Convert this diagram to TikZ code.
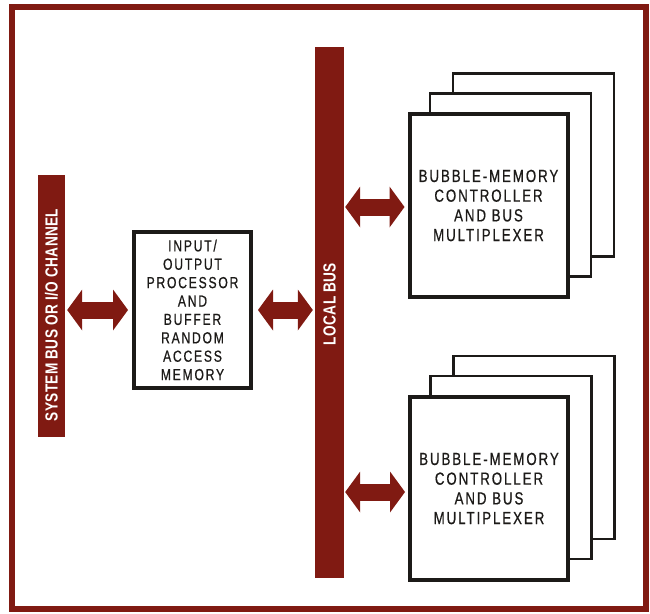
\documentclass[tikz,border=0pt]{standalone}
\usepackage{fontspec}
\setmainfont{Liberation Sans}
\newfontfamily\boxfont[FakeStretch=0.76,LetterSpace=11,FakeBold=0.6]{Liberation Sans}
\newfontfamily\busfont[FakeStretch=0.78,LetterSpace=2]{Liberation Sans Bold}
\usetikzlibrary{arrows.meta,calc}
\definecolor{busred}{RGB}{128,26,18}
\definecolor{inkblack}{RGB}{28,26,24}
\begin{document}
\begin{tikzpicture}[x=1pt,y=-1pt,
  bar/.style={fill=busred, draw=none, inner sep=0pt},
  buslabel/.style={rotate=90, text=white, inner sep=0pt, font=\busfont\fontsize{17.5}{19}\selectfont},
  iopbox/.style={draw=inkblack, line width=4pt, fill=white, inner sep=0pt, align=center, text=inkblack,
    minimum width=117pt, minimum height=156pt, font=\boxfont\fontsize{16}{18.4}\selectfont},
  frontbox/.style={draw=inkblack, line width=4pt, fill=white, inner sep=0pt, align=center, text=inkblack,
    minimum width=158pt, minimum height=183pt, font=\boxfont\fontsize{17.5}{19.7}\selectfont},
  backbox/.style={draw=inkblack, line width=2.5pt, fill=white, inner sep=0pt,
    minimum width=161pt, minimum height=183pt},
  bigarrow/.style={busred, line width=17pt,
    {Triangle[width=41pt,length=15pt,line width=0pt]}-{Triangle[width=41pt,length=15pt,line width=0pt]}}
]
\useasboundingbox (0,0) rectangle (650,613);
\fill[white] (0,0) rectangle (650,613);
% frame
\draw[busred, line width=6pt] (12,7) rectangle (646,609);

% buses
\node[bar, minimum width=27pt, minimum height=262pt] (sysbus) at (51.5,306) {};
\node[buslabel] (syslabel) at (51.5,315) {SYSTEM BUS OR I/O CHANNEL};
\node[bar, minimum width=29pt, minimum height=531pt] (localbus) at (329.5,312.5) {};
\node[buslabel] (locallabel) at (329.5,304) {LOCAL BUS};

% I/O processor
\node[iopbox] (iop) at (192.5,310) {INPUT/\\OUTPUT\\PROCESSOR\\AND\\BUFFER\\RANDOM\\ACCESS\\MEMORY};

% upper controller stack
\node[backbox] (bmcAback) at (533.5,165) {};
\node[backbox] (bmcAmid) at (510.5,185) {};
\node[frontbox] (bmcA) at (488.5,205.5) {BUBBLE-MEMORY\\CONTROLLER\\AND BUS\\MULTIPLEXER};

% lower controller stack
\node[backbox] (bmcBback) at (534,447.5) {};
\node[backbox] (bmcBmid) at (511,467.5) {};
\node[frontbox] (bmcB) at (489,488.5) {BUBBLE-MEMORY\\CONTROLLER\\AND BUS\\MULTIPLEXER};

% arrows
\draw[bigarrow, shorten <=2pt, shorten >=4pt] (sysbus.east |- iop.west) -- (iop.west);
\draw[bigarrow, shorten <=5pt, shorten >=2pt] (iop.east) -- (localbus.west |- iop.east);
\coordinate (aA) at ($(bmcA.west)+(0,1.5)$);
\coordinate (aB) at ($(bmcB.west)+(0,3.5)$);
\draw[bigarrow, shorten <=1pt, shorten >=3pt] (localbus.east |- aA) -- (aA);
\draw[bigarrow, shorten <=1pt, shorten >=3pt] (localbus.east |- aB) -- (aB);
\end{tikzpicture}
\end{document}
